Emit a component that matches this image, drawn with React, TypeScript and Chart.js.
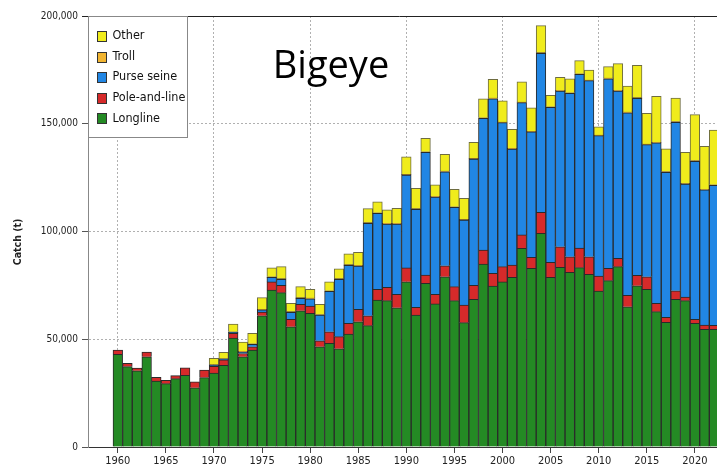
import React, { useEffect, useRef } from "react";
import { Chart, registerables } from "chart.js";

Chart.register(...registerables);

const years = [
  1960, 1961, 1962, 1963, 1964, 1965, 1966, 1967, 1968, 1969,
  1970, 1971, 1972, 1973, 1974, 1975, 1976, 1977, 1978, 1979,
  1980, 1981, 1982, 1983, 1984, 1985, 1986, 1987, 1988, 1989,
  1990, 1991, 1992, 1993, 1994, 1995, 1996, 1997, 1998, 1999,
  2000, 2001, 2002, 2003, 2004, 2005, 2006, 2007, 2008, 2009,
  2010, 2011, 2012, 2013, 2014, 2015, 2016, 2017, 2018, 2019,
  2020, 2021, 2022,
];

const longline = [
  43000, 37300, 35400, 41900, 30600, 29400, 31700, 33300, 27500, 32200,
  34300, 37900, 50600, 41900, 45000, 60900, 72800, 71600, 55800, 63200,
  62000, 46500, 48100, 45600, 52400, 58100, 56300, 68200, 67900, 64600,
  76700, 61200, 75900, 66400, 79000, 67900, 57700, 68500, 84900, 74700,
  76600, 78700, 92200, 82900, 99200, 78700, 83400, 81100, 83200, 80100,
  72400, 77200, 83700, 65100, 74800, 73200, 62800, 57900, 68500, 67900,
  57400, 54600, 54600,
];

const poleAndLine = [
  2000, 1500, 1200, 2200, 1700, 1500, 1400, 3400, 2700, 3500,
  3100, 2500, 2100, 1500, 1500, 1700, 3800, 3400, 3400, 3000,
  3400, 2800, 5400, 5600, 5000, 5800, 4600, 5000, 6200, 6300,
  6400, 3600, 3900, 4500, 5100, 6500, 8200, 6500, 6500, 5900,
  7100, 5700, 6200, 5100, 9700, 7000, 9500, 7200, 9100, 8200,
  6900, 5700, 3900, 5300, 4900, 5800, 3900, 2300, 4000, 1700,
  1900, 2000, 1900,
];

const purseSeine = [
  0, 0, 0, 0, 0, 0, 0, 0, 0, 0,
  500, 300, 500, 700, 1100, 1000, 2100, 2800, 3300, 2800,
  3400, 11900, 18700, 26600, 26900, 20100, 42900, 35200, 29400, 32600,
  43100, 45500, 56900, 45100, 43600, 36800, 39400, 58600, 61100, 81000,
  66800, 53900, 61400, 58200, 73800, 71900, 72300, 75800, 80600, 81700,
  65200, 88000, 77600, 84700, 82100, 61300, 74400, 67300, 78200, 52400,
  73300, 62700, 64900,
];

const troll = [
  0, 0, 0, 0, 0, 0, 0, 0, 0, 0,
  300, 300, 300, 300, 300, 300, 300, 300, 300, 300,
  300, 300, 300, 300, 300, 300, 300, 300, 300, 300,
  300, 300, 300, 300, 300, 300, 300, 300, 300, 300,
  300, 300, 300, 300, 300, 300, 300, 300, 300, 300,
  300, 300, 300, 300, 300, 300, 300, 300, 300, 300,
  300, 300, 300,
];

const other = [
  0, 0, 0, 0, 0, 0, 0, 0, 0, 0,
  2900, 2900, 3500, 4300, 4800, 5400, 4100, 5600, 3900, 5100,
  4100, 4700, 4200, 4600, 5000, 6000, 6500, 5100, 6200, 7000,
  8200, 9400, 6200, 5300, 7800, 8100, 9800, 7500, 8800, 8700,
  9800, 8800, 9400, 10900, 12500, 5300, 6000, 6500, 6100, 4600,
  3800, 5300, 12400, 12100, 15000, 14200, 21300, 10600, 10900, 14400,
  21300, 19900, 25400,
];

const yTicks = [0, 50000, 100000, 150000, 200000];
const xTickYears = [1960, 1965, 1970, 1975, 1980, 1985, 1990, 1995, 2000, 2005, 2010, 2015, 2020];

const seriesNames = ["Longline", "Pole-and-line", "Purse seine", "Troll", "Other"];
const seriesColors = ["#248a24", "#d62a2a", "#2186e4", "#f2b531", "#f0ec1c"];
const seriesData = [longline, poleAndLine, purseSeine, troll, other];

const FONT = '"DejaVu Sans Condensed", "Liberation Sans", sans-serif';

const overlayPlugin = {
  id: "overlay",
  afterDraw(chart: any) {
    const { ctx, chartArea } = chart;
    const { left, top, right } = chartArea;
    ctx.save();
    // top border
    ctx.strokeStyle = "#222";
    ctx.lineWidth = 1;
    ctx.beginPath();
    ctx.moveTo(left - 6, Math.round(top) + 0.5);
    ctx.lineTo(right, Math.round(top) + 0.5);
    ctx.stroke();

    // legend box
    const bx = Math.round(left) + 0.5;
    const by = Math.round(top) + 0.5;
    const bw = 99;
    const bh = 121;
    ctx.fillStyle = "#fff";
    ctx.fillRect(bx, by, bw, bh);
    ctx.strokeStyle = "#888";
    ctx.strokeRect(bx, by, bw, bh);
    const order = [4, 3, 2, 1, 0];
    ctx.font = "12.5px " + FONT;
    ctx.textBaseline = "middle";
    ctx.textAlign = "left";
    order.forEach((si, i) => {
      const cy = by + 19.5 + i * 20.6;
      ctx.fillStyle = seriesColors[si];
      ctx.fillRect(bx + 9, Math.round(cy - 5) + 0.5, 9, 10);
      ctx.strokeStyle = "#333";
      ctx.strokeRect(bx + 9, Math.round(cy - 5) + 0.5, 9, 10);
      ctx.fillStyle = "#111";
      ctx.fillText(seriesNames[si], bx + 24, cy);
    });

    // title
    ctx.fillStyle = "#000";
    ctx.font = '38px "Open Sans", "Liberation Sans", sans-serif';
    ctx.textAlign = "center";
    ctx.textBaseline = "alphabetic";
    ctx.fillText("Bigeye", 331, 78);

    // y axis title
    ctx.translate(18, 242);
    ctx.rotate(-Math.PI / 2);
    ctx.font = "bold 10.5px " + FONT;
    ctx.textAlign = "center";
    ctx.textBaseline = "middle";
    ctx.fillStyle = "#222";
    ctx.fillText("Catch (t)", 0, 0);
    ctx.restore();
  },
};

export default function App() {
  const ref = useRef<HTMLCanvasElement | null>(null);

  useEffect(() => {
    document.body.style.margin = "0";
    const canvas = ref.current;
    if (!canvas) return;
    const chart = new Chart(canvas, {
      type: "bar",
      data: {
        datasets: seriesData.map((arr, si) => ({
          label: seriesNames[si],
          data: years.map((yr, i) => ({ x: yr, y: arr[i] })),
          backgroundColor: seriesColors[si],
          borderColor: si === 4 ? "#6e6c40" : "#2a2a2a",
          borderWidth: 1,
          categoryPercentage: 1,
          barPercentage: 1,
        })),
      },
      options: {
        responsive: false,
        animation: false,
        layout: { padding: { top: 16, right: 0, left: 0, bottom: 0 } },
        plugins: {
          legend: { display: false },
          tooltip: { enabled: false },
          title: { display: false },
        },
        scales: {
          x: {
            type: "linear",
            stacked: true,
            min: 1956.9,
            max: 2022.3,
            offset: false,
            afterBuildTicks: (scale: any) => {
              scale.ticks = xTickYears.map((v) => ({ value: v }));
            },
            afterFit: (scale: any) => {
              scale.height = 22;
            },
            ticks: {
              autoSkip: false,
              maxRotation: 0,
              padding: 2,
              color: "#222",
              font: { family: FONT, size: 11 },
              callback: (v: any) => String(v),
            },
            grid: {
              offset: false,
              color: (c: any) => (c.tick && c.tick.value % 10 === 0 ? "#b0b0b0" : "rgba(0,0,0,0)"),
              tickColor: "#444",
              tickLength: 6,
              lineWidth: 1,
            },
            border: { color: "#333", width: 1, dash: [2, 2] },
          },
          y: {
            stacked: true,
            min: 0,
            max: 200000,
            afterBuildTicks: (scale: any) => {
              scale.ticks = yTicks.map((v) => ({ value: v }));
            },
            afterFit: (scale: any) => {
              scale.width = 88;
            },
            ticks: {
              padding: 4,
              color: "#222",
              font: { family: FONT, size: 10 },
              callback: (v: any) => Number(v).toLocaleString("en-US"),
            },
            grid: {
              color: (c: any) =>
                c.tick && c.tick.value > 0 && c.tick.value < 200000 ? "#b0b0b0" : "rgba(0,0,0,0)",
              tickColor: "#555",
              tickLength: 6,
              lineWidth: 1,
            },
            border: { color: "#888", width: 1, dash: [2, 2] },
          },
        },
      },
      plugins: [overlayPlugin],
    } as any);
    return () => chart.destroy();
  }, []);

  return (
    <div style={{ width: 717, height: 469, overflow: "hidden" }}>
      <canvas ref={ref} width={717} height={469} style={{ display: "block" }} />
    </div>
  );
}
